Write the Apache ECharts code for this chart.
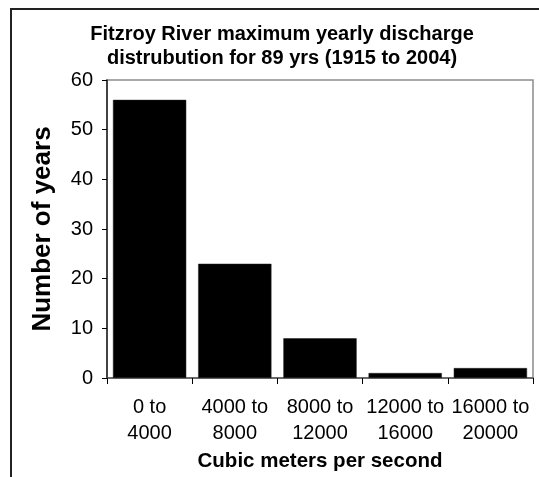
<!DOCTYPE html>
<html>
<head>
<meta charset="utf-8">
<script src="https://cdn.jsdelivr.net/npm/echarts@6/dist/echarts.min.js"></script>
<style>html,body{margin:0;padding:0;background:#fff}#c{width:539px;height:477px}</style>
</head>
<body>
<div id="c"></div>
<script>
const categories = ['0 to\n4000', '4000 to\n8000', '8000 to\n12000', '12000 to\n16000', '16000 to\n20000'];
const years = [56, 23, 8, 1, 2];
const yTicks = { min: 0, max: 60, interval: 10 };

const chart = echarts.init(document.getElementById('c'));
const font = 'Liberation Sans, Arial, sans-serif';
chart.setOption({
  animation: false,
  backgroundColor: '#fff',
  title: {
    text: 'Fitzroy River maximum yearly discharge\ndistrubution for 89 yrs (1915 to 2004)',
    left: 277, top: 17, textAlign: 'center',
    textStyle: { fontFamily: font, fontSize: 20, fontWeight: 'bold', color: '#000', lineHeight: 24 }
  },
  grid: { left: 107, right: 6, top: 80, bottom: 99, show: true, borderColor: '#8c8c8c', borderWidth: 1.5, containLabel: false },
  xAxis: {
    type: 'category', data: categories,
    axisLine: { lineStyle: { color: '#555', width: 1.5 } },
    axisTick: { show: true, alignWithLabel: false, interval: 0, length: 6, lineStyle: { color: '#000' } },
    axisLabel: { interval: 0, margin: 16, fontFamily: font, fontSize: 20, color: '#000', lineHeight: 26 },
    name: 'Cubic meters per second', nameLocation: 'middle', nameGap: 69,
    nameTextStyle: { fontFamily: font, fontSize: 20.5, fontWeight: 'bold', color: '#000' }
  },
  yAxis: {
    type: 'value', min: yTicks.min, max: yTicks.max, interval: yTicks.interval,
    splitLine: { show: false },
    axisLine: { show: true, lineStyle: { color: '#222', width: 1.5 } },
    axisTick: { show: true, length: 5, lineStyle: { color: '#000' } },
    axisLabel: { margin: 14, fontFamily: font, fontSize: 20, color: '#000' },
    name: 'Number of years', nameLocation: 'middle', nameGap: 51, nameRotate: 90,
    nameTextStyle: { fontFamily: font, fontSize: 26, fontWeight: 'bold', color: '#000' }
  },
  series: [{
    type: 'bar', data: years, barCategoryGap: '14%',
    itemStyle: { color: '#000', borderColor: '#222', borderWidth: 0.5 }
  }],
  graphic: [
    { type: 'line', shape: { x1: 11, y1: 9, x2: 11, y2: 477 }, style: { stroke: '#222', lineWidth: 2 } },
    { type: 'line', shape: { x1: 10, y1: 9, x2: 539, y2: 9 }, style: { stroke: '#222', lineWidth: 2 } }
  ]
});
</script>
</body>
</html>
